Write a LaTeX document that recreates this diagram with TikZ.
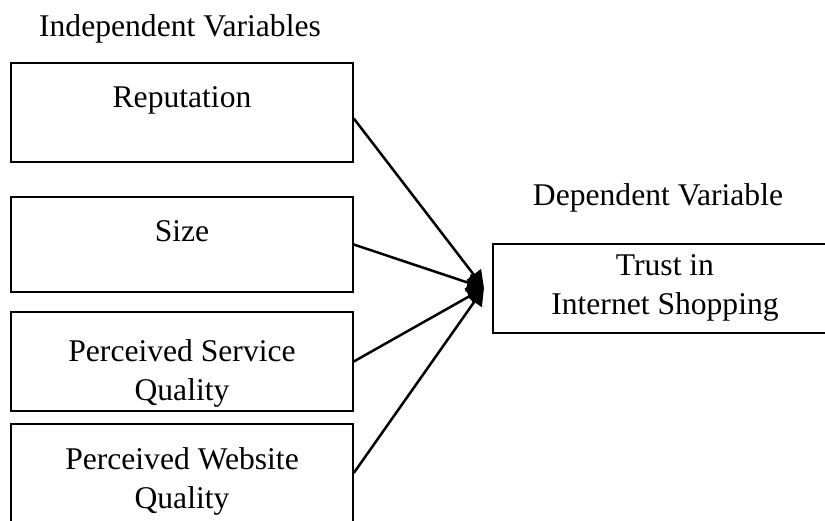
\documentclass[tikz,border=0pt]{standalone}
\usepackage{fontspec}
\setmainfont{Liberation Serif}
\usepackage{tikz}
\usetikzlibrary{arrows.meta,positioning}

\begin{document}
\begin{tikzpicture}[
  x=0.5pt, y=-0.5pt,
  varbox/.style={rectangle, draw, line width=0.8pt, inner sep=0pt, minimum width=171pt},
  vartext/.style={align=center, inner sep=0pt, font=\fontsize{15.8}{19.5}\selectfont},
  arr/.style={-{Triangle[length=8.5pt, width=9pt]}, line width=1.25pt}
]
\useasboundingbox (0,0) rectangle (825,520);
\clip (0,0) rectangle (825,520);

\node[vartext, anchor=base] (indep) at (180,36) {Independent Variables};
\node[vartext, anchor=base] (dep) at (658,205) {Dependent Variable};

\node[varbox, minimum height=49.5pt] (rep) at (182,112.5) {};
\node[varbox, minimum height=47.5pt] (size) at (182,244.5) {};
\node[varbox, minimum height=49.5pt] (service) at (182,361.5) {};
\node[varbox, minimum height=50pt] (website) at (182,474) {};
\node[varbox, minimum width=172pt, minimum height=44.5pt] (trust) at (665,288.5) {};

\node[vartext, below=12pt of rep.north] (reptxt) {Reputation};
\node[vartext, below=12pt of size.north] (sizetxt) {Size};
\node[vartext, below=14pt of service.north] (servicetxt) {Perceived Service\\Quality};
\node[vartext, below=12pt of website.north] (websitetxt) {Perceived Website\\Quality};
\node[vartext, below=5.5pt of trust.north] (trusttxt) {Trust in\\Internet Shopping};

\coordinate (hub) at (484,288);

\draw[arr] ([yshift=-3pt]rep.east) -- (hub);
\draw[arr] (size.east) -- (hub);
\draw[arr] (service.east) -- (hub);
\draw[arr] ([yshift=0.5pt]website.east) -- (hub);
\end{tikzpicture}
\end{document}
